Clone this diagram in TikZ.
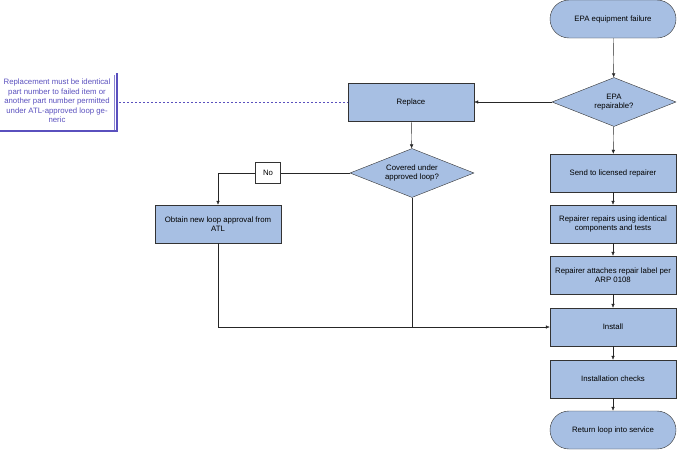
\documentclass[tikz,border=0pt]{standalone}
\usepackage{fontspec}
\setmainfont{Liberation Sans}
\usetikzlibrary{shapes.geometric,arrows.meta}
\definecolor{boxblue}{RGB}{167,191,227}
\definecolor{notecol}{RGB}{90,80,190}
\tikzset{
    process/.style={draw=black!80,fill=boxblue,minimum width=126pt,minimum height=38pt,
        align=center,font=\fontsize{7.8}{9.5}\selectfont},
    term/.style={process,rounded corners=19pt},
    decide/.style={draw=black!80,fill=boxblue,diamond,aspect=2.5,minimum width=124pt,
        minimum height=49pt,inner sep=0pt,align=center,font=\fontsize{7.8}{9.5}\selectfont},
    flow/.style={draw=black!85,-{Latex[length=4pt,width=3.5pt]}},
    line/.style={draw=black!85}
}
\begin{document}
\begin{tikzpicture}[x=1pt,y=-1pt]
    \useasboundingbox (0,0) rectangle (677,450);

    \node[term] (fail) at (613,19) {EPA equipment failure};
    \node[decide] (repairable) at (614,102) {EPA\\repairable?};
    \node[process] (replace) at (411,102) {Replace};
    \node[decide] (covered) at (412,173) {Covered under\\approved loop?};
    \node[draw=black!80,fill=white,minimum width=25pt,minimum height=21pt,
        font=\fontsize{7.8}{9.5}\selectfont] (no) at (268,173) {No};
    \node[process] (obtain) at (218,224) {Obtain new loop approval from\\ATL};
    \node[process] (send) at (613,173) {Send to licensed repairer};
    \node[process] (repairs) at (613,224) {Repairer repairs using identical\\components and tests};
    \node[process] (label) at (613,275) {Repairer attaches repair label per\\ARP 0108};
    \node[process] (install) at (613,327) {Install};
    \node[process] (checks) at (613,379) {Installation checks};
    \node[term] (return) at (613,430) {Return loop into service};

    % annotation
    \node[align=center,inner sep=1pt,text=notecol,
        font=\fontsize{7.8}{9.5}\selectfont] (note) at (57,101)
        {Replacement must be identical\\part number to failed item or\\another part number permitted\\under ATL-approved loop ge-\\neric};
    \draw[notecol,line width=1.2pt] (0,131) -- (117,131) -- (117,73);
    \draw[notecol!70,line width=0.4pt] (114,130) -- (114,75);
    \coordinate (notex) at (119,102);
    \draw[notecol,dashed,dash pattern=on 2pt off 2pt] (notex) -- (replace.west);

    \path[flow] (fail) -- (repairable);
    \path[flow] (repairable) -- (replace);
    \path[flow] (repairable) -- (send);
    \path[flow] (replace) -- (covered);
    \path[line] (covered) -- (no);
    \path[flow] (no.west) -| (obtain.north);
    \path[flow] (send) -- (repairs);
    \path[flow] (repairs) -- (label);
    \path[flow] (label) -- (install);
    \path[flow] (obtain.south) |- (install.west);
    \path[line] (covered.south) -- (covered.south |- install.west);
    \path[flow] (install) -- (checks);
    \path[flow] (checks) -- (return);
\end{tikzpicture}
\end{document}
